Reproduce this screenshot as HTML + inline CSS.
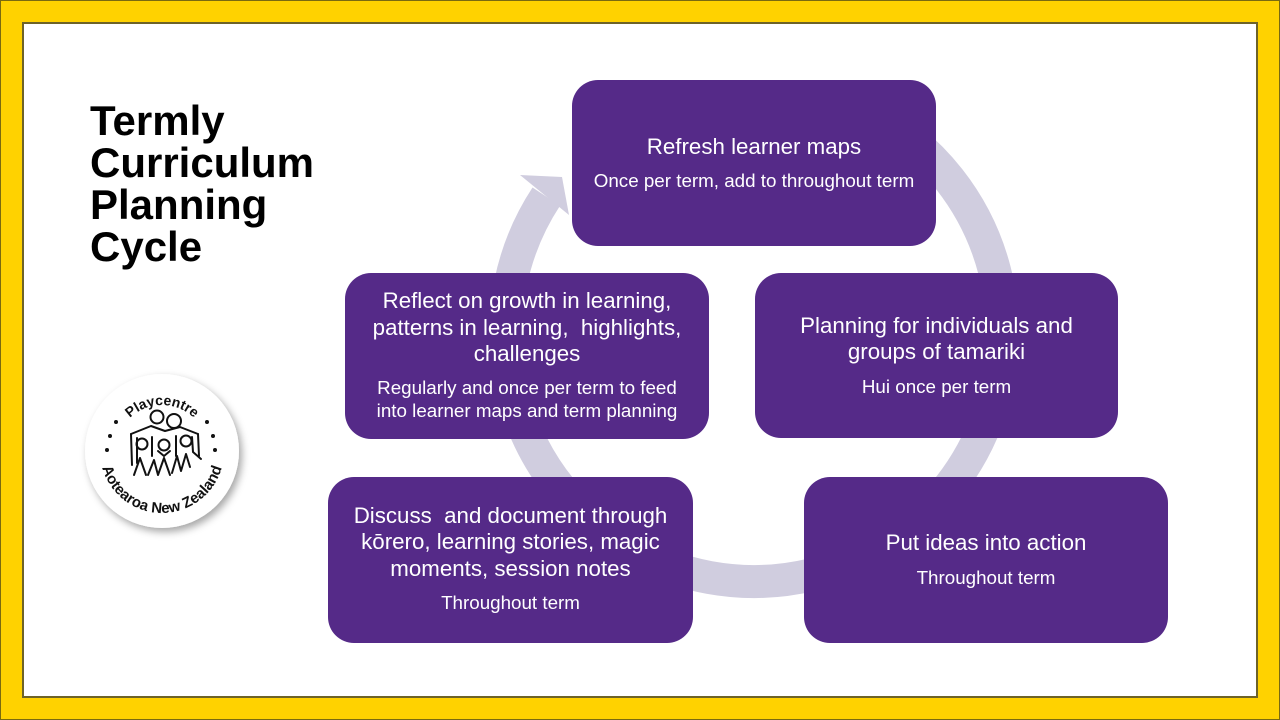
<!DOCTYPE html>
<html>
<head>
<meta charset="utf-8">
<style>
html,body{margin:0;padding:0;width:1280px;height:720px;overflow:hidden;background:#FFD200;}
svg{display:block;}
.t{font-family:"Liberation Sans",Arial,sans-serif;fill:#fff;text-anchor:middle;white-space:pre;}
.h{font-size:22.3px;}
.s{font-size:18.8px;}
</style>
</head>
<body>
<svg width="1280" height="720" viewBox="0 0 1280 720" xmlns="http://www.w3.org/2000/svg">
  <defs>
    <filter id="sh" x="-30%" y="-30%" width="160%" height="160%">
      <feDropShadow dx="3" dy="4" stdDeviation="4" flood-color="#000" flood-opacity="0.35"/>
    </filter>
  </defs>
  <!-- frame -->
  <rect x="0.5" y="0.5" width="1279" height="719" fill="#FFD200" stroke="#7a6a10" stroke-width="1"/>
  <rect x="23" y="23" width="1234" height="674" fill="#ffffff" stroke="#6e6328" stroke-width="2"/>

  <!-- title -->
  <g font-family="Liberation Sans, Arial, sans-serif" font-weight="bold" font-size="42" fill="#000">
    <text x="90" y="135">Termly</text>
    <text x="90" y="177">Curriculum</text>
    <text x="90" y="219">Planning</text>
    <text x="90" y="261">Cycle</text>
  </g>

  <!-- ring arrow -->
  <path d="M 878.25 117.8 A 248.5 248.5 0 1 1 546.3 196.6" fill="none" stroke="#D0CDDF" stroke-width="33"/>
  <polygon points="520,175 562,177 569,215" fill="#D0CDDF"/>

  <!-- boxes -->
  <g fill="#552A88">
    <rect x="572" y="80" width="364" height="166" rx="26" ry="26"/>
    <rect x="345" y="273" width="364" height="166" rx="26" ry="26"/>
    <rect x="755" y="273" width="363" height="165" rx="26" ry="26"/>
    <rect x="328" y="477" width="365" height="166" rx="26" ry="26"/>
    <rect x="804" y="477" width="364" height="166" rx="26" ry="26"/>
  </g>

  <!-- box texts -->
  <text class="t h" x="754" y="154">Refresh learner maps</text>
  <text class="t s" x="754" y="187">Once per term, add to throughout term</text>

  <text class="t h" x="527" y="308">Reflect on growth in learning,</text>
  <text class="t h" x="527" y="335">patterns in learning,  highlights,</text>
  <text class="t h" x="527" y="361">challenges</text>
  <text class="t s" x="527" y="394">Regularly and once per term to feed</text>
  <text class="t s" x="527" y="417">into learner maps and term planning</text>

  <text class="t h" x="936.5" y="333">Planning for individuals and</text>
  <text class="t h" x="936.5" y="359">groups of tamariki</text>
  <text class="t s" x="936.5" y="393">Hui once per term</text>

  <text class="t h" x="510.5" y="523">Discuss  and document through</text>
  <text class="t h" x="510.5" y="549">kōrero, learning stories, magic</text>
  <text class="t h" x="510.5" y="576">moments, session notes</text>
  <text class="t s" x="510.5" y="609">Throughout term</text>

  <text class="t h" x="986" y="550">Put ideas into action</text>
  <text class="t s" x="986" y="584">Throughout term</text>

  <!-- logo -->
  <circle cx="162" cy="451" r="77" fill="#ffffff" filter="url(#sh)"/>
  <defs>
    <path id="topArc" d="M 116 451 A 46 46 0 0 1 208 451"/>
    <path id="botArc" d="M 100 451 A 62 62 0 0 0 224 451"/>
  </defs>
  <text font-family="Liberation Sans, Arial, sans-serif" font-weight="bold" font-size="14" fill="#111" text-anchor="middle">
    <textPath href="#topArc" startOffset="50%">Playcentre</textPath>
  </text>
  <text font-family="Liberation Sans, Arial, sans-serif" font-weight="bold" font-size="15" fill="#111" text-anchor="middle">
    <textPath href="#botArc" startOffset="50%">Aotearoa New Zealand</textPath>
  </text>
  <g fill="#111">
    <circle cx="116" cy="422" r="2"/>
    <circle cx="110" cy="436" r="2"/>
    <circle cx="107" cy="450" r="2"/>
    <circle cx="207" cy="422" r="2"/>
    <circle cx="213" cy="436" r="2"/>
    <circle cx="215" cy="450" r="2"/>
  </g>
  <g fill="none" stroke="#111" stroke-width="2" stroke-linecap="round" stroke-linejoin="round">
    <circle cx="157" cy="417" r="6.5"/>
    <circle cx="174" cy="421" r="7"/>
    <path d="M131 434 L151 426 L165 431 L180 427 L198 434"/>
    <path d="M131 434 L132 465"/>
    <path d="M198 434 L199 456"/>
    <path d="M137 438 L137 463"/>
    <path d="M152 437 L152 456"/>
    <path d="M176 436 L176 456"/>
    <path d="M192 437 L193 452 L201 459"/>
    <circle cx="142" cy="444" r="5.5"/>
    <circle cx="164" cy="445" r="5.5"/>
    <circle cx="186" cy="441" r="5.5"/>
    <path d="M134 475 L140 458 L146 475"/>
    <path d="M148 475 L154 460 L158 475 L164 458 L170 475"/>
    <path d="M172 473 L177 456 L181 471 L186 454 L190 467"/>
    <path d="M158 451 L164 456 L170 451"/>
  </g>
</svg>
</body>
</html>
